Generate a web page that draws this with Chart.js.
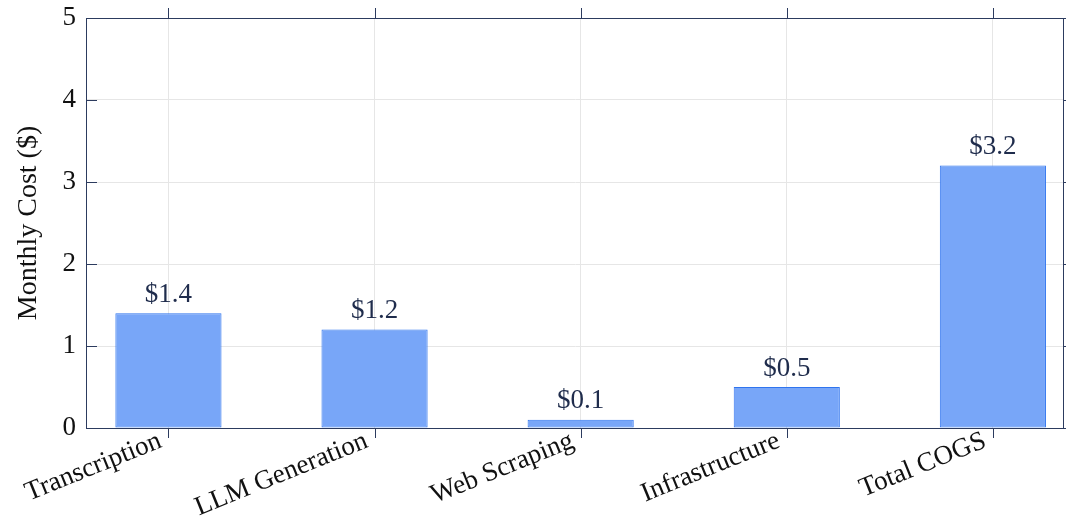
<!DOCTYPE html>
<html>
<head>
<meta charset="utf-8">
<script src="https://cdn.jsdelivr.net/npm/chart.js@4.4.0/dist/chart.umd.min.js"></script>
<style>
    html, body { margin: 0; padding: 0; background: #fff; }
    #wrap { width: 1066px; height: 519px; }
</style>
</head>
<body>
<div id="wrap"><canvas id="cogs-chart"></canvas></div>
<script>
"use strict";

const categories = ['Transcription', 'LLM Generation', 'Web Scraping', 'Infrastructure', 'Total COGS'];
const monthlyCost = [1.4, 1.2, 0.1, 0.5, 3.2];
const yTicks = [0, 1, 2, 3, 4, 5];

const axisColor = '#2c3b5e';
const gridColor = '#e6e6e6';
const fontFamily = '"Liberation Serif", "DejaVu Serif", serif';

// box around the plot, ticks on all four sides, value labels on bars
const framePlugin = {
    id: 'frame',
    afterDatasetsDraw(chart) {
        const ctx = chart.ctx;
        const meta = chart.getDatasetMeta(0);
        ctx.save();
        ctx.fillStyle = '#1f2c4c';
        ctx.font = '27px ' + fontFamily;
        ctx.textAlign = 'center';
        ctx.textBaseline = 'bottom';
        meta.data.forEach((bar, i) => {
            ctx.fillText('$' + monthlyCost[i].toFixed(1), bar.x, bar.y - 5);
        });
        ctx.restore();
    },
    afterDraw(chart) {
        const ctx = chart.ctx;
        const area = chart.chartArea;
        const x = chart.scales.x;
        const y = chart.scales.y;
        ctx.save();
        ctx.strokeStyle = axisColor;
        ctx.lineWidth = 1;
        ctx.strokeRect(area.left + 0.5, area.top + 0.5, area.right - area.left - 1, area.bottom - area.top);
        ctx.beginPath();
        categories.forEach((c, i) => {
            const px = Math.round(x.getPixelForValue(i)) + 0.5;
            ctx.moveTo(px, area.bottom);
            ctx.lineTo(px, area.bottom + 10);
            ctx.moveTo(px, area.top);
            ctx.lineTo(px, area.top - 10);
        });
        yTicks.forEach(v => {
            const py = Math.round(y.getPixelForValue(v)) + 0.5;
            ctx.moveTo(area.left, py);
            ctx.lineTo(area.left + 11, py);
            ctx.moveTo(area.right, py);
            ctx.lineTo(area.right + 10, py);
        });
        ctx.stroke();
        ctx.restore();
    }
};

const ctx = document.getElementById('cogs-chart').getContext('2d');
new Chart(ctx, {
    type: 'bar',
    data: {
        datasets: [{
            data: monthlyCost.map((v, i) => ({ x: i, y: v })),
            backgroundColor: '#78a6f8',
            borderColor: '#2f74ee',
            borderWidth: 1,
            borderSkipped: false,
            barPercentage: 0.515,
            categoryPercentage: 1
        }]
    },
    options: {
        responsive: true,
        maintainAspectRatio: false,
        animation: false,
        layout: { padding: { top: 18, right: 2, left: 0, bottom: 0 } },
        plugins: {
            legend: { display: false },
            tooltip: { enabled: false }
        },
        scales: {
            x: {
                type: 'linear',
                offset: false,
                min: -0.4,
                max: 4.345,
                afterBuildTicks: (scale) => {
                    scale.ticks = categories.map((c, i) => ({ value: i }));
                },
                afterFit: (scale) => {
                    scale.height = 91;
                    scale.paddingLeft = 0;
                    scale.paddingRight = 0;
                },
                grid: { color: gridColor, drawTicks: false, offset: false },
                border: { display: true, color: axisColor },
                ticks: {
                    autoSkip: false,
                    maxRotation: 22,
                    minRotation: 22,
                    padding: -3,
                    labelOffset: -8,
                    color: '#111',
                    font: { family: fontFamily, size: 27 },
                    callback: (v) => categories[v]
                }
            },
            y: {
                min: 0,
                max: 5,
                afterBuildTicks: (scale) => {
                    scale.ticks = yTicks.map(v => ({ value: v }));
                },
                afterFit: (scale) => {
                    scale.width = 86;
                    scale.paddingTop = 0;
                    scale.paddingBottom = 0;
                },
                grid: { color: gridColor, drawTicks: false },
                border: { display: true, color: axisColor },
                ticks: {
                    padding: 10,
                    color: '#111',
                    font: { family: fontFamily, size: 27 }
                },
                title: {
                    display: true,
                    text: 'Monthly Cost ($)',
                    color: '#111',
                    padding: { top: 12, bottom: 0 },
                    font: { family: fontFamily, size: 28 }
                }
            }
        }
    },
    plugins: [framePlugin]
});
</script>
</body>
</html>
